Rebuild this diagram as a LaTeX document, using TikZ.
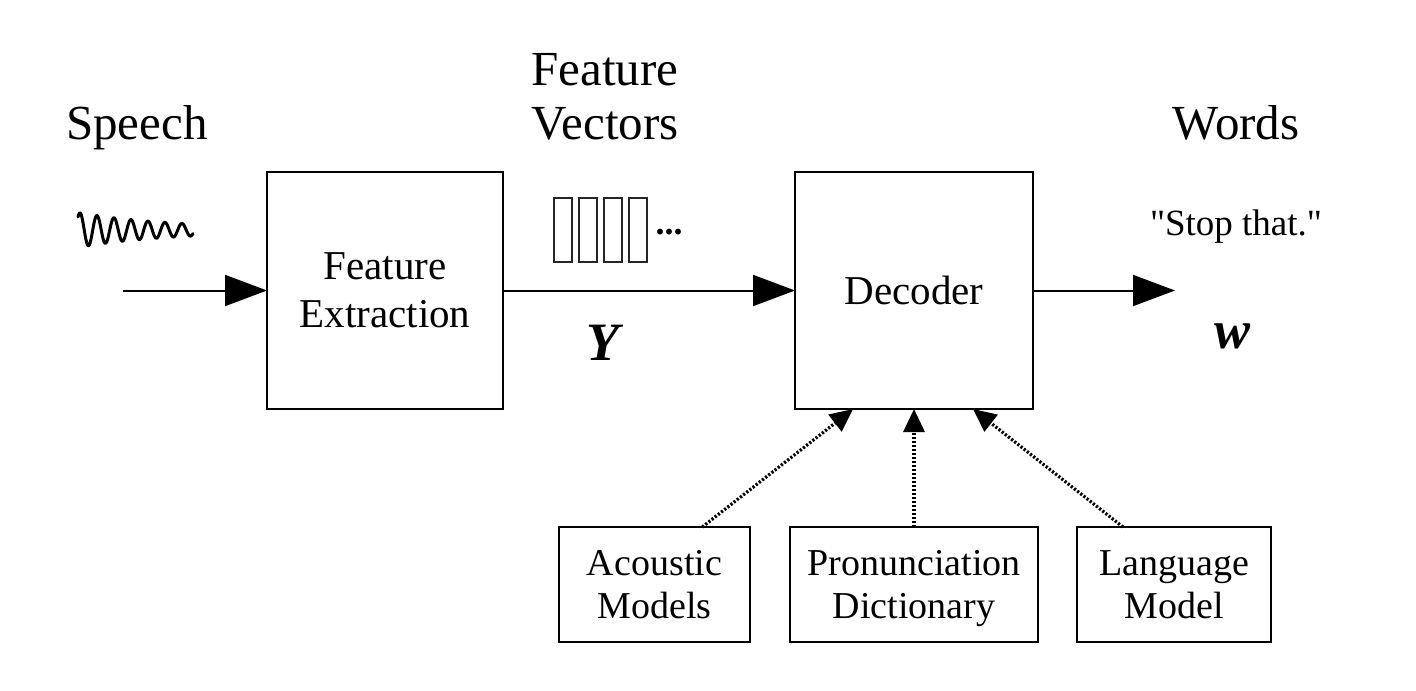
\documentclass[tikz,border=0pt]{standalone}
\usepackage{fontspec}
\setmainfont{Liberation Serif}
\usetikzlibrary{arrows.meta,calc}
\begin{document}
\begin{tikzpicture}[x=0.5pt,y=-0.5pt,
  box/.style={draw, line width=1.3pt, inner sep=0pt, outer sep=0pt, align=center,
    font=\fontsize{20.5}{24}\selectfont},
  smallbox/.style={draw, line width=1.3pt, inner sep=0pt, outer sep=0pt, align=center,
    text depth=0pt, font=\fontsize{19}{21.5}\selectfont},
  lbl/.style={font=\fontsize{24.5}{27}\selectfont, anchor=base, inner sep=0pt},
  mathlbl/.style={font=\fontsize{27}{30}\selectfont\bfseries\itshape, anchor=base, inner sep=0pt},
  arr/.style={line width=1pt, -{Triangle[length=21pt,width=15.5pt]}},
  darr/.style={line width=1.6pt, dash pattern=on 1.1pt off 0.9pt, -{Triangle[length=11.5pt,width=10.5pt]}},
  vecbox/.style={draw=black!85, line width=0.6pt, minimum width=9pt, minimum height=32pt, inner sep=0pt}
]
\useasboundingbox (0,0) rectangle (1416,690);

% main boxes
\node[box, minimum width=118pt, minimum height=118.5pt] (fe) at (385,290.5) {Feature\\Extraction};
\node[box, minimum width=119pt, minimum height=118.5pt] (dec) at (914,290.5) {Decoder};

% knowledge sources
\node[smallbox, minimum width=95.5pt, minimum height=57.5pt] (am) at (654.5,584.5) {Acoustic\\Models};
\node[smallbox, minimum width=124pt, minimum height=57.5pt] (pd) at (914,584.5) {Pronunciation\\Dictionary};
\node[smallbox, minimum width=97pt, minimum height=57.5pt] (lm) at (1174,584.5) {Language\\Model};

% labels
\node[lbl] (speech) at (137,139) {Speech};
\node[lbl] (feat) at (605,85) {Feature};
\node[lbl] (vecs) at (605,139) {Vectors};
\node[lbl] (words) at (1236,139) {Words};
\node[font=\fontsize{18.5}{21}\selectfont, anchor=base, inner sep=0pt] (stop) at (1236,235) {\textquotedbl Stop that.\textquotedbl};
\node[mathlbl] (Y) at (603,360) {Y};
\node[mathlbl] (w) at (1232,348) {w};

% feature vectors
\node[vecbox] (v1) at (563,230) {};
\node[vecbox] (v2) at (588,230) {};
\node[vecbox] (v3) at (613,230) {};
\node[vecbox] (v4) at (638,230) {};
\node[font=\fontsize{18}{20}\selectfont\bfseries, anchor=base, inner sep=0pt] (dots) at (669,234) {...};

% speech waveform
\draw[line width=1.5pt, line join=round, line cap=round]
  plot[domain=0:115, samples=240, smooth] ({78+\x}, {230 - (16*exp(-\x/90)+1.5)*sin(\x*21.1765 + 48)});

% arrows
\coordinate (src) at (123,290.5);
\coordinate (out) at (1175,290.5);
\draw[arr] (src) -- (fe.west);
\draw[arr] (fe.east) -- (dec.west);
\draw[arr] (dec.east) -- (out);

% dotted arrows
\draw[darr] ($(am.north west)!0.75!(am.north east)$) -- ($(dec.south west)!0.244!(dec.south east)$);
\draw[darr] (pd.north) -- (dec.south);
\draw[darr] ($(lm.north west)!0.237!(lm.north east)$) -- ($(dec.south west)!0.748!(dec.south east)$);
\end{tikzpicture}
\end{document}
